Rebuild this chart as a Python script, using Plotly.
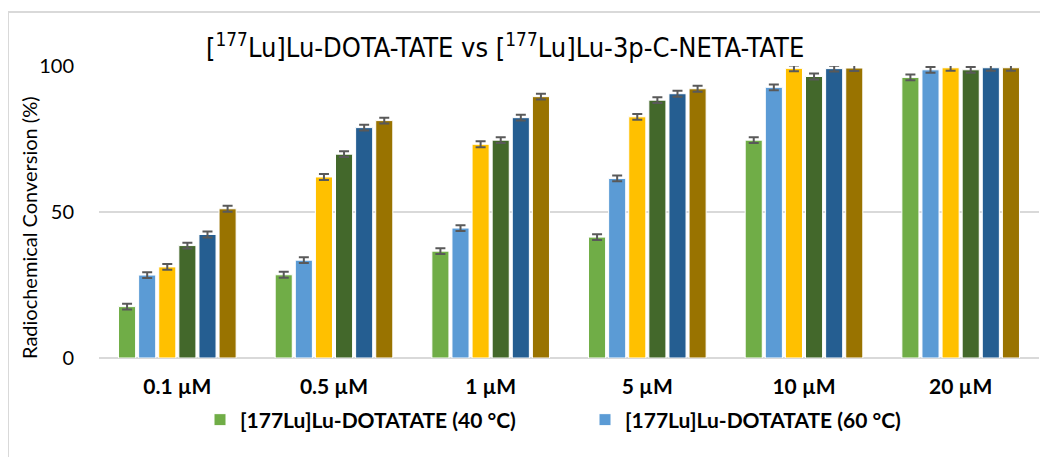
import plotly.graph_objects as go

categories = ["0.1 µM", "0.5 µM", "1 µM", "5 µM", "10 µM", "20 µM"]
series_names = [
    "[177Lu]Lu-DOTATATE (40 °C)",
    "[177Lu]Lu-DOTATATE (60 °C)",
    "[177Lu]Lu-DOTATATE (80 °C)",
    "[177Lu]Lu-3p-C-NETA-TATE (40 °C)",
    "[177Lu]Lu-3p-C-NETA-TATE (60 °C)",
    "[177Lu]Lu-3p-C-NETA-TATE (80 °C)",
]
dota_40 = [17.6, 28.5, 36.6, 41.4, 74.6, 96.1]
dota_60 = [28.4, 33.5, 44.5, 61.5, 92.7, 98.7]
dota_80 = [31.2, 62.0, 73.2, 82.6, 99.2, 99.4]
neta_40 = [38.5, 69.8, 74.6, 88.3, 96.4, 98.7]
neta_60 = [42.3, 78.9, 82.3, 90.5, 99.1, 99.4]
neta_80 = [51.1, 81.3, 89.5, 92.2, 99.3, 99.4]
errors = [1.0, 1.0, 1.0, 1.0, 1.0, 1.0]
colors = ["#70AD47", "#5B9BD5", "#FFC000", "#43682B", "#255E91", "#997300"]
legend_visible = [True, True, False, False, False, False]

all_series = [dota_40, dota_60, dota_80, neta_40, neta_60, neta_80]

# page body margin offsets the figure by 8 px; positions below are screen pixels
OFF = 8
W, H = 1048, 457
plot_left, plot_right, plot_top, plot_bottom = 99, 1039, 66, 358
L = plot_left - OFF
R = W - (plot_right - OFF)
T = plot_top - OFF
B = H - (plot_bottom - OFF)
PW, PH = W - L - R, H - T - B


def px_x(p):
    return (p - OFF - L) / PW


def px_y(p):
    return (H - B - (p - OFF)) / PH


fig = go.Figure()
for name, vals, col, show in zip(series_names, all_series, colors, legend_visible):
    fig.add_trace(go.Bar(
        x=categories, y=vals, name=name, showlegend=show,
        marker=dict(color=col, line=dict(color="white", width=1)),
        error_y=dict(type="data", array=errors, color="#595959", thickness=2, width=5),
        cliponaxis=False,
    ))

fig.update_layout(
    width=W, height=H,
    margin=dict(l=L, r=R, t=T, b=B),
    paper_bgcolor="white", plot_bgcolor="white",
    barmode="group", bargap=0.23, bargroupgap=0.15,
    font=dict(family="Lato", color="#000000"),
    xaxis=dict(
        showgrid=False, showline=False, ticks="", automargin=False,
        tickfont=dict(family="Lato", size=21, color="#000000", weight="bold"),
        ticklabelstandoff=14,
    ),
    yaxis=dict(
        range=[0, 100], tickvals=[0, 50, 100], ticktext=["0", "50", "100"],
        showgrid=True, gridcolor="#D9D9D9", gridwidth=2,
        zeroline=True, zerolinecolor="#D9D9D9", zerolinewidth=2,
        showline=False, ticks="", automargin=False,
        tickfont=dict(family="Lato", size=20, color="#000000"),
        ticklabelstandoff=24,
    ),
    legend=dict(
        orientation="h", x=px_x(585), xanchor="center", y=px_y(420), yanchor="middle",
        font=dict(family="Lato", size=21, color="#000000", weight="bold"),
        itemwidth=30, traceorder="normal", entrywidth=340,
    ),
)

fig.add_annotation(
    xref="paper", yref="paper", x=px_x(29), y=px_y(228), xanchor="center", yanchor="middle",
    text="Radiochemical Conversion (%)", textangle=-90, showarrow=False,
    font=dict(family="Lato", size=20, color="#000000"),
)

fig.add_annotation(
    xref="paper", yref="paper", x=px_x(505), y=px_y(45), xanchor="center", yanchor="middle",
    text="[<sup>177</sup>Lu]Lu-DOTA-TATE vs [<sup>177</sup>Lu]Lu-3p-C-NETA-TATE",
    showarrow=False, font=dict(family="DejaVu Sans Condensed", size=27, color="#000000"),
)

fig.add_shape(type="rect", xref="paper", yref="paper",
              x0=px_x(8), x1=px_x(1070), y0=px_y(480), y1=px_y(12),
              line=dict(color="#D9D9D9", width=2), fillcolor="rgba(0,0,0,0)", layer="below")

fig.write_html("out.html")
